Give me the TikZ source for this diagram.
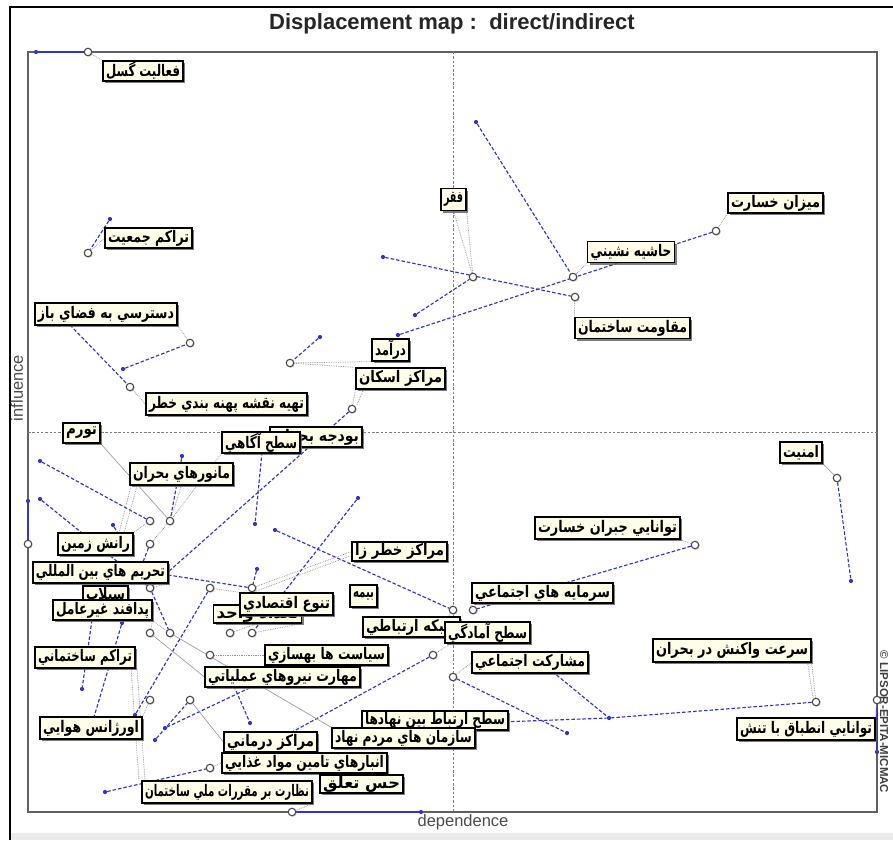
\documentclass[tikz,border=0pt]{standalone}
\usepackage{fontspec}
\usepackage{graphicx}
\setmainfont{Liberation Sans}
\newfontfamily\fafont[Script=Arabic]{DejaVu Sans}
\TeXXeTstate=1
\usetikzlibrary{shadows}
\pgfdeclarelayer{back}
\pgfdeclarelayer{lines}
\pgfsetlayers{back,lines,main}

\definecolor{dispblue}{RGB}{52,52,200}
\definecolor{boxfill}{RGB}{255,253,232}

\tikzset{
  lblbox/.style={draw=black, line width=1.2pt, fill=boxfill, inner sep=0pt,
    drop shadow={shadow xshift=2.4pt, shadow yshift=-2.4pt, fill=black!60, opacity=0.85}},
  newpos/.style={circle, draw=black!72, line width=1.1pt, fill=white,
    minimum size=7.5pt, inner sep=0pt,
    drop shadow={shadow xshift=1pt, shadow yshift=-1pt, fill=black!35}},
  oldpos/.style={circle, fill=dispblue, minimum size=4.2pt, inner sep=0pt},
  disp/.style={draw=dispblue, line width=1.15pt, dash pattern=on 3.5pt off 2pt},
  dispfix/.style={draw=dispblue, line width=1.3pt},
  lead/.style={draw=black!42, line width=0.75pt, densely dotted},
  leadsolid/.style={draw=black!38, line width=0.7pt},
  axisframe/.style={draw=black!62, line width=2pt},
  midline/.style={draw=black!50, line width=0.6pt, dash pattern=on 2.5pt off 1.8pt},
}

% label box: name, centre x, centre y, box width, box height, right-to-left text
\newcommand\fabox[6]{%
  \pgfmathsetlengthmacro\fatw{#4-6}%
  \node[lblbox, minimum width=#4pt, minimum height=#5pt] (#1) at (#2,#3)
    {\resizebox{\fatw}{\height}{\fontsize{16}{16}\fafont\bfseries #6}};}

\begin{document}
\begin{tikzpicture}[x=1pt,y=-1pt]
\useasboundingbox (0,0) rectangle (893,840);

% ---------- frame, axes, titles ----------
\begin{pgfonlayer}{back}
  \fill[black!8] (10,833) rectangle (893,840);
  \draw[black, line width=2pt] (10,840) -- (10,7) -- (893,7);
  \draw[axisframe] (28,52) rectangle (877,812);
  \draw[midline] (453,52) -- (453,812);
  \draw[midline] (28,432) -- (877,432);
\end{pgfonlayer}

\node[font=\fontsize{22}{24}\selectfont\bfseries, text=black!85] (title) at (452,24) {Displacement map :\ \ direct/indirect};
\node[font=\fontsize{16.5}{18}\selectfont, text=black!70, rotate=90] (yaxis) at (17,388) {influence};
\node[font=\fontsize{16.5}{18}\selectfont, text=black!70] (xaxis) at (463,822) {dependence};
\node[font=\fontsize{11.5}{12}\selectfont\bfseries, text=black!75, rotate=-90] (credit) at (884,722) {\copyright\ LIPSOR-EPITA-MICMAC};

% ---------- positions of the variables ----------
\node[newpos] (cFault) at (88,52) {};
\node[newpos] (cPop) at (88,253) {};
\node[newpos] (cHash) at (573,277) {};
\node[newpos] (cMizan) at (716,231) {};
\node[newpos] (cMogh) at (575,297) {};
\node[newpos] (cFaqr) at (473,277) {};
\node[newpos] (cDast) at (190,343) {};
\node[newpos] (cNagh) at (130,387) {};
\node[newpos] (cDar) at (290,363) {};
\node[newpos] (cEskan) at (352,409) {};
\node[newpos] (cA) at (150,521) {};
\node[newpos] (cB) at (170,521) {};
\node[newpos] (cRanesh) at (150,544) {};
\node[newpos] (cLeft) at (28,544) {};
\node[newpos] (cTahrim) at (150,588) {};
\node[newpos] (cKhatar) at (252,588) {};
\node[newpos] (cC) at (210,588) {};
\node[newpos] (cD) at (150,633) {};
\node[newpos] (cE) at (170,633) {};
\node[newpos] (cF) at (230,633) {};
\node[newpos] (cG) at (252,633) {};
\node[newpos] (cH) at (210,655) {};
\node[newpos] (cOrj) at (150,700) {};
\node[newpos] (cI) at (190,700) {};
\node[newpos] (cAnbar) at (210,768) {};
\node[newpos] (cNez) at (292,812) {};
\node[newpos] (cAmad) at (453,610) {};
\node[newpos] (cSarm) at (473,610) {};
\node[newpos] (cShab) at (433,655) {};
\node[newpos] (cMosh) at (453,677) {};
\node[newpos] (cJob) at (695,545) {};
\node[newpos] (cAmn) at (837,478) {};
\node[newpos] (cSor) at (816,702) {};
\node[newpos] (cEnt) at (877,700) {};

\node[oldpos] (dFault) at (36,52) {};
\node[oldpos] (dPop) at (110,219) {};
\node[oldpos] (dHash) at (476,122) {};
\node[oldpos] (dMizan) at (398,335) {};
\node[oldpos] (dMogh) at (383,257) {};
\node[oldpos] (dFaqr) at (415,315) {};
\node[oldpos] (dDast) at (123,369) {};
\node[oldpos] (dDar) at (320,337) {};
\node[oldpos] (dAgahi) at (255,524) {};
\node[oldpos] (dMan) at (182,456) {};
\node[oldpos] (dL1) at (40,461) {};
\node[oldpos] (dL2) at (40,499) {};
\node[oldpos] (dL3) at (113,525) {};
\node[oldpos] (dLeft) at (28,501) {};
\node[oldpos] (dK) at (358,498) {};
\node[oldpos] (dM) at (275,530) {};
\node[oldpos] (dKhatar) at (257,569) {};
\node[oldpos] (dN) at (135,715) {};
\node[oldpos] (dTar) at (82,689) {};
\node[oldpos] (dP) at (122,623) {};
\node[oldpos] (dQ) at (155,740) {};
\node[oldpos] (dR) at (165,728) {};
\node[oldpos] (dMah) at (250,723) {};
\node[oldpos] (dAnbar) at (105,792) {};
\node[oldpos] (dMosh) at (567,733) {};
\node[oldpos] (dS) at (609,718) {};
\node[oldpos] (dAmn) at (851,581) {};
\node[oldpos] (dEnt) at (877,752) {};
\node[oldpos] (dNez) at (421,812) {};

% line ends that lie under the label boxes
\coordinate (hNagh) at (70,325);
\coordinate (hL3) at (120,537);
\coordinate (hTah) at (168,575);
\coordinate (hPad) at (92,620);
\coordinate (hOrj) at (94,717);
\coordinate (hSia) at (300,664);
\coordinate (hMah) at (234,686);
\coordinate (hAnbar) at (230,766);
\coordinate (hMosh) at (548,668);
\coordinate (hErt) at (500,722);
\coordinate (hRan) at (143,562);
\coordinate (hAgahi) at (262,452);
\coordinate (hM1) at (131,486);
\coordinate (hM2) at (119,533);
\coordinate (hM3) at (137,486);
\coordinate (hM4) at (124,533);
\coordinate (hT1) at (131,668);
\coordinate (hT2) at (137,668);
\coordinate (hN1) at (139,781);
\coordinate (hN2) at (145,781);

% ---------- label boxes ----------
\fabox{fault}{143}{71}{80}{20}{\beginR فعاليت گسل\endR}
\fabox{pop}{148.5}{238}{87}{20}{\beginR تراکم جمعيت\endR}
\fabox{faqr}{453.5}{199.5}{25}{22}{\beginR فقر\endR}
\fabox{hashie}{631}{252}{87}{21}{\beginR حاشيه نشيني\endR}
\fabox{mizan}{775.5}{203}{95}{20}{\beginR ميزان خسارت\endR}
\fabox{moghav}{632.5}{328}{115}{21}{\beginR مقاومت ساختمان\endR}
\fabox{dastresi}{106}{314}{142}{22}{\beginR دسترسي به فضاي باز\endR}
\fabox{daramad}{390.5}{350}{37}{22}{\beginR درآمد\endR}
\fabox{eskan}{400.5}{378.5}{89}{21}{\beginR مراکز اسکان\endR}
\fabox{naghshe}{226.5}{404}{161}{22}{\beginR تهيه نقشه پهنه بندي خطر\endR}
\fabox{budje}{316}{437}{92}{20}{\beginR بودجه بحران\endR}
\fabox{agahi}{261}{442.5}{78}{21}{\beginR سطح آگاهي\endR}
\fabox{tavarom}{81.5}{433}{37}{20}{\beginR تورم\endR}
\fabox{manovr}{181.5}{474}{103}{22}{\beginR مانورهاي بحران\endR}
\fabox{ranesh}{95.5}{544}{75}{22}{\beginR رانش زمين\endR}
\fabox{tahrim}{100.5}{572.5}{135}{21}{\beginR تحريم هاي بين المللي\endR}
\fabox{seilab}{105.5}{595}{45}{18}{\beginR سيلاب\endR}
\fabox{padafand}{102.5}{610}{99}{20}{\beginR پدافند غيرعامل\endR}
\fabox{tarakomS}{85}{657.5}{100}{21}{\beginR تراکم ساختماني\endR}
\fabox{orjans}{91}{728}{102}{22}{\beginR اورژانس هوايي\endR}
\fabox{khatar}{399.5}{551.5}{95}{19}{\beginR مراکز خطر زا\endR}
\fabox{bime}{363.5}{596}{27}{22}{\beginR بيمه\endR}
\fabox{vahed}{257.5}{614}{88}{18}{\beginR تعداد واحد\endR}
\fabox{tanavo}{286.5}{604}{93}{22}{\beginR تنوع اقتصادي\endR}
\fabox{shabake}{411.5}{627}{97}{20}{\beginR شبکه ارتباطي\endR}
\fabox{amadegi}{487.5}{632.5}{85}{21}{\beginR سطح آمادگي\endR}
\fabox{sarmaye}{542.5}{593}{141}{20}{\beginR سرمايه هاي اجتماعي\endR}
\fabox{mosharekat}{530}{662.5}{116}{21}{\beginR مشارکت اجتماعي\endR}
\fabox{siasat}{326.5}{655}{123}{20}{\beginR سياست ها بهسازي\endR}
\fabox{mahar}{282.5}{677}{155}{20}{\beginR مهارت نيروهاي عملياتي\endR}
\fabox{ertebat}{435}{720.5}{146}{19}{\beginR سطح ارتباط بين نهادها\endR}
\fabox{mardom}{403.5}{738}{143}{20}{\beginR سازمان هاي مردم نهاد\endR}
\fabox{darmani}{270.5}{742}{93}{20}{\beginR مراکز درماني\endR}
\fabox{anbar}{304.5}{763}{165}{20}{\beginR انبارهاي تامين مواد غذايي\endR}
\fabox{hes}{361.5}{784}{83}{18}{\beginR حس تعلق\endR}
\fabox{nezarat}{227}{792}{170}{22}{\beginR نظارت بر مقررات ملي ساختمان\endR}
\fabox{jobran}{607.5}{528}{145}{22}{\beginR توانايي جبران خسارت\endR}
\fabox{amniat}{801}{452.5}{42}{21}{\beginR امنيت\endR}
\fabox{soraat}{732}{650.5}{158}{23}{\beginR سرعت واکنش در بحران\endR}
\fabox{entebagh}{806}{729}{138}{22}{\beginR توانايي انطباق با تنش\endR}

% ---------- displacements and leaders ----------
\begin{pgfonlayer}{lines}
  \draw[dispfix] (dFault) -- (cFault);
  \draw[dispfix] (dLeft) -- (cLeft);
  \draw[dispfix] (cEnt) -- (dEnt);
  \draw[dispfix] (cNez) -- (dNez);
  \draw[disp] (dPop) -- (cPop);
  \draw[disp] (dHash) -- (cHash);
  \draw[disp] (dMizan) -- (cMizan);
  \draw[disp] (dMogh) -- (cMogh);
  \draw[disp] (dFaqr) -- (cFaqr);
  \draw[disp] (dDast) -- (cDast);
  \draw[disp] (hNagh) -- (cNagh);
  \draw[disp] (dDar) -- (cDar);
  \draw[disp] (cEskan) -- (cTahrim);
  \draw[disp] (hAgahi) -- (dAgahi);
  \draw[disp] (dMan) -- (cB);
  \draw[disp] (dL1) -- (cA);
  \draw[disp] (dL2) -- (cTahrim);
  \draw[disp] (dL3) -- (hL3);
  \draw[disp] (dK) -- (cG);
  \draw[disp] (dM) -- (cAmad);
  \draw[disp] (dKhatar) -- (cKhatar);
  \draw[disp] (hTah) -- (cKhatar);
  \draw[disp] (cC) -- (dN);
  \draw[disp] (cTahrim) -- (cE);
  \draw[disp] (hPad) -- (dTar);
  \draw[disp] (dP) -- (hOrj);
  \draw[disp] (dQ) -- (cI);
  \draw[disp] (dR) -- (hSia);
  \draw[disp] (hMah) -- (dMah);
  \draw[disp] (dAnbar) -- (cAnbar);
  \draw[disp] (cShab) -- (hAnbar);
  \draw[disp] (cMosh) -- (dMosh);
  \draw[disp] (cJob) -- (cSarm);
  \draw[disp] (hMosh) -- (dS);
  \draw[disp] (cSor) -- (dS);
  \draw[disp] (hErt) -- (dS);
  \draw[disp] (cAmn) -- (dAmn);
  \draw[disp] (cRanesh) -- (hRan);

  \draw[lead] (cFault) -- (fault.north west);
  \draw[lead] (cPop) -- (pop.west);
  \draw[lead] (cHash) -- (hashie.south west);
  \draw[lead] (cMizan) -- (mizan.south west);
  \draw[lead] (cMogh) -- (moghav.north west);
  \draw[lead] (cFaqr) -- (faqr.south);
  \draw[lead] (cFaqr) -- (faqr.south east);
  \draw[lead] (cDast) -- (dastresi.south east);
  \draw[lead] (cNagh) -- (naghshe.west);
  \draw[lead] (cDar) -- (daramad.south west);
  \draw[lead] (cDar) -- (eskan.north west);
  \draw[lead] (cEskan) -- (eskan.south west);
  \draw[lead] ([xshift=5pt]cEskan.north) -- ([xshift=8pt]eskan.south west);
  \draw[leadsolid] (tavarom.south east) -- (cB);
  \draw[lead] (agahi.south west) -- (cB);
  \draw[lead] (manovr.south) -- (cB);
  \draw[lead] (hM1) -- (hM2);
  \draw[lead] (hM3) -- (hM4);
  \draw[lead] (cB) -- (cRanesh);
  \draw[lead] (cA) -- (ranesh.north east);
  \draw[lead] (cTahrim) -- (tahrim.south east);
  \draw[lead] (cKhatar) -- (khatar.west);
  \draw[lead] ([yshift=-3pt]cKhatar.east) -- ([yshift=-4pt]khatar.west);
  \draw[lead] (cC) -- (tanavo.north west);
  \draw[lead] (cD) -- (padafand.south east);
  \draw[lead] (cE) -- (padafand.south east);
  \draw[leadsolid] (cD) -- (mahar.west);
  \draw[leadsolid] (cE) -- (mardom.north west);
  \draw[lead] (cF) -- (vahed.south);
  \draw[lead] (cG) -- (vahed.south east);
  \draw[lead] (cH) -- (siasat.west);
  \draw[lead] (cOrj) -- (orjans.north east);
  \draw[leadsolid] (cI) -- (darmani.west);
  \draw[lead] (hT1) -- (hN1);
  \draw[lead] (hT2) -- (hN2);
  \draw[lead] (cAnbar) -- (anbar.west);
  \draw[lead] (cNez) -- (nezarat.south east);
  \draw[lead] (cAmad) -- (amadegi.north west);
  \draw[lead] (cSarm) -- (sarmaye.south west);
  \draw[lead] (cShab) -- (shabake.south east);
  \draw[lead] (cMosh) -- (mosharekat.west);
  \draw[lead] (cJob) -- (jobran.south east);
  \draw[leadsolid] (cAmn) -- (amniat.south east);
  \draw[lead] (cSor) -- (soraat.south east);
  \draw[lead] ([xshift=-3pt]cSor.north) -- ([xshift=-4pt]soraat.south east);
  \draw[lead] (cEnt) -- (entebagh.north east);
\end{pgfonlayer}
\end{tikzpicture}
\end{document}
